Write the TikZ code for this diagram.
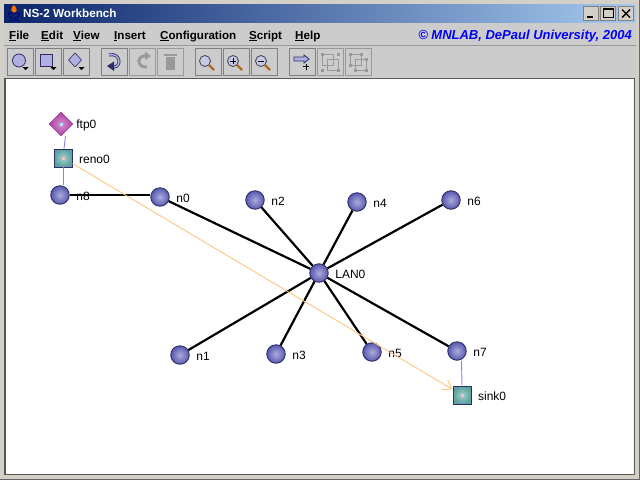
\documentclass[tikz,border=0pt]{standalone}
\usepackage{fontspec}
\setmainfont{Liberation Sans}
\usetikzlibrary{arrows.meta,shapes.geometric}
\definecolor{winbg}{HTML}{D4D0C8}
\definecolor{panelbg}{HTML}{CCCCCC}
\definecolor{edgegray}{HTML}{808080}
\definecolor{offgray}{HTML}{999999}
\definecolor{titleA}{HTML}{0A246A}
\definecolor{titleB}{HTML}{A6CAF0}
\definecolor{linkblue}{HTML}{8484DC}
\definecolor{agentline}{HTML}{FFC680}
\definecolor{lav}{HTML}{B0B0E0}
\definecolor{lavdark}{HTML}{2E2E66}
\definecolor{ballin}{HTML}{ACACDC}
\definecolor{ballout}{HTML}{5858B0}
\definecolor{boxin}{HTML}{A0D0CC}
\definecolor{boxout}{HTML}{5CA09C}
\definecolor{ftpin}{HTML}{D890D0}
\definecolor{ftpout}{HTML}{A83CA0}
\definecolor{handle}{HTML}{B06A20}
\newcommand{\mkey}[2]{\underline{#1}#2}
\tikzset{
  txt/.style={inner sep=0pt,font=\fontsize{12}{14}\selectfont},
  menuitem/.style={txt,anchor=base west,font=\fontsize{11.6}{14}\selectfont\bfseries},
  btn/.style={draw=edgegray,fill=panelbg,minimum width=26pt,minimum height=27pt,inner sep=0pt},
  offbtn/.style={draw=offgray,fill=panelbg,minimum width=26pt,minimum height=27pt,inner sep=0pt},
  tag/.style={label={[txt,label distance=6.5pt,yshift=-1pt]right:#1}},
  host/.style={circle,minimum size=18.5pt,inner sep=0pt,draw=lavdark,line width=.9pt,
    inner color=ballin,outer color=ballout},
  dotpic/.style={path picture={\fill[#1] ([shift={(-1.5,-1.5)}]path picture bounding box.center) rectangle ++(3,3);}},
  tcp/.style={rectangle,minimum size=18pt,inner sep=0pt,draw=lavdark,line width=.9pt,
    inner color=boxin,outer color=boxout,dotpic=pink},
  ftp/.style={diamond,minimum size=24pt,inner sep=0pt,draw=ftpout!80!black,line width=.4pt,
    inner color=ftpin,outer color=ftpout,dotpic=cyan!30},
  net/.style={line width=2.2pt,black},
  wire/.style={line width=.9pt,linkblue},
  flow/.style={line width=.9pt,agentline,-{Straight Barb[length=8pt,width=11pt]}},
  drop/.style={fill=black}
}
\begin{document}
\begin{tikzpicture}[x=1pt,y=-1pt]
  \useasboundingbox (0,0) rectangle (640,480);
  \fill[winbg] (0,0) rectangle (640,480);
  \fill[panelbg] (4,22) rectangle (636,78);
  \shade[left color=titleA,right color=titleB] (4,4) rectangle (636,22);
  \draw[edgegray!80!white,line width=1pt] (4,45.5) -- (636,45.5);
  % canvas
  \draw[fill=white,draw=black!65,line width=1.5pt] (5,78.5) rectangle (634.5,474.5);
  \draw[black!60,line width=1pt] (0,479.5) -- (640,479.5);
  \draw[black!60,line width=1pt] (639.5,0) -- (639.5,480);

  % title bar
  \node[txt,anchor=base west,white,font=\fontsize{11.7}{14}\selectfont\bfseries] (title) at (23,17) {NS-2 Workbench};
  \fill[orange!90!red] (14,5) .. controls (9,10) and (12,12) .. (14,13) .. controls (18,11) and (17,9) .. (14,5);
  \draw[blue!50!black,line width=1pt] (8,13) -- (20,13) -- (17,18) -- (11,18) -- cycle;
  \draw[blue!50!black,line width=1pt] (9,20) -- (19,20);
  \foreach \wbtn/\x in {wmin/591,wmax/608,wclose/626}
    \node[draw=edgegray,fill=winbg,minimum width=15pt,minimum height=14pt,inner sep=0pt] (\wbtn) at (\x,13.5) {};
  \draw[black,line width=2pt] (587,17) -- (593,17);
  \draw[black,line width=1pt] (603,8.5) rectangle (613,17.5);
  \draw[black,line width=2pt] (603,8.5) -- (613,8.5);
  \draw[black,line width=1.4pt] (622,9.5) -- (630,17.5) (630,9.5) -- (622,17.5);

  % menu
  \node[menuitem] (mfile) at (9,39) {\mkey{F}{ile}};
  \node[menuitem] (medit) at (41,39) {\mkey{E}{dit}};
  \node[menuitem] (mview) at (73,39) {\mkey{V}{iew}};
  \node[menuitem] (minsert) at (114,39) {\mkey{I}{nsert}};
  \node[menuitem] (mconf) at (160,39) {\mkey{C}{onfiguration}};
  \node[menuitem] (mscript) at (249,39) {\mkey{S}{cript}};
  \node[menuitem] (mhelp) at (295,39) {\mkey{H}{elp}};
  \node[txt,anchor=base east,blue,font=\fontsize{13}{14}\selectfont\bfseries\itshape] (credit) at (632,39) {© MNLAB, DePaul University, 2004};

  % toolbar
  \foreach \bname/\x/\kind in {b1/20/btn,b2/48/btn,b3/76/btn,b4/114/btn,b5/142/offbtn,b6/170/offbtn,
      b7/208/btn,b8/236/btn,b9/264/btn,b10/302/btn,b11/330/offbtn,b12/358/offbtn} {
    \draw[white] (\x-12.5,75.5) -- (\x+13.5,75.5) -- (\x+13.5,48.5);
    \node[\kind] (\bname) at (\x,61.5) {};
  }
  \filldraw[fill=lav,draw=lavdark,line width=.8pt] (19,60.5) circle (6.5);
  \filldraw[fill=lav,draw=lavdark,line width=.9pt] (40.5,54.5) rectangle (52,66);
  \filldraw[fill=lav,draw=lavdark,line width=.6pt] (75,53) -- (81.5,60) -- (75,67) -- (68.5,60) -- cycle;
  \foreach \x in {25.5,53.5,81.5}
    \fill[drop] (\x-3,67) -- (\x+3,67) -- (\x,70) -- cycle;
  % undo, redo
  \draw[lavdark,line width=3pt] (109,55) .. controls (121,52) and (122,68) .. (113,67);
  \draw[lav,line width=1.4pt] (109,55) .. controls (121,52) and (122,68) .. (113,67);
  \fill[lavdark] (107,66) -- (114,61.5) -- (114,71) -- cycle;
  \draw[offgray,line width=3pt] (148,56) .. controls (136,54) and (136,68) .. (147,67);
  \fill[offgray] (151,56) -- (145,51.5) -- (145,60) -- cycle;
  % trash
  \fill[offgray] (166,57) rectangle (175,70);
  \draw[offgray,line width=1.6pt] (164,55) -- (177,55);
  % zoom glasses
  \foreach \x/\mark in {205/0,233/1,261/2} {
    \draw[handle,line width=2.2pt] (\x+4,65) -- (\x+9,70);
    \filldraw[fill=lav!70!white,draw=black!70,line width=.9pt] (\x,61) circle (5.5);
  }
  \draw[black,line width=.8pt] (230,61) -- (236,61) (233,58) -- (233,64);
  \draw[black,line width=.8pt] (258,61) -- (264,61);
  % link tool
  \filldraw[fill=lav,draw=lavdark,line width=.8pt] (294,57) -- (304,57) -- (304,55) -- (309,59) -- (304,63) -- (304,61) -- (294,61) -- cycle;
  \draw[black,line width=.9pt] (303,66.5) -- (309,66.5) (306,63.5) -- (306,69.5);
  % grouping tools
  \draw[offgray,line width=1pt] (322,54) rectangle (333,65) (327,59) rectangle (338,70);
  \draw[offgray,line width=1pt] (350,54) rectangle (361,65) (355,59) rectangle (366,70);
  \foreach \px/\py in {322/54,338/54,322/70,338/70,350/54,361/54,350/65,355/70,366/59,366/70}
    \fill[offgray] (\px-1.5,\py-1.5) rectangle ++(3,3);

  % network
  \foreach \name/\x/\y in {n8/60/195,n0/160/197,n2/255/200,n4/357/202,n6/451/200,
      LAN0/319/273,n1/180/355,n3/276/354,n5/372/352,n7/457/351}
    \node[host,tag=\name] (\name) at (\x,\y) {};
  \node[tcp,tag=reno0] (reno0) at (63,158) {};
  \node[tcp,tag=sink0] (sink0) at (462,395) {};
  \node[ftp,label={[txt,label distance=3pt,yshift=-1pt]right:ftp0}] (ftp0) at (61,124) {};

  \draw[net] (n8) -- ([yshift=2pt]n0.west);
  \foreach \source/\dest in {n0/LAN0,n2/LAN0,n4/LAN0,n6/LAN0,n1/LAN0,n3/LAN0,n5/LAN0,n7/LAN0}
    \draw[net] (\source) -- (\dest);
  \draw[wire] ([xshift=4.5pt]ftp0.south) -- ([xshift=1pt]reno0.north);
  \draw[wire] (reno0.south) -- ([xshift=3pt]n8.north);
  \draw[wire] ([xshift=4.5pt]n7.south) -- (sink0.north);
  \draw[flow] (reno0) -- (sink0);
\end{tikzpicture}
\end{document}
